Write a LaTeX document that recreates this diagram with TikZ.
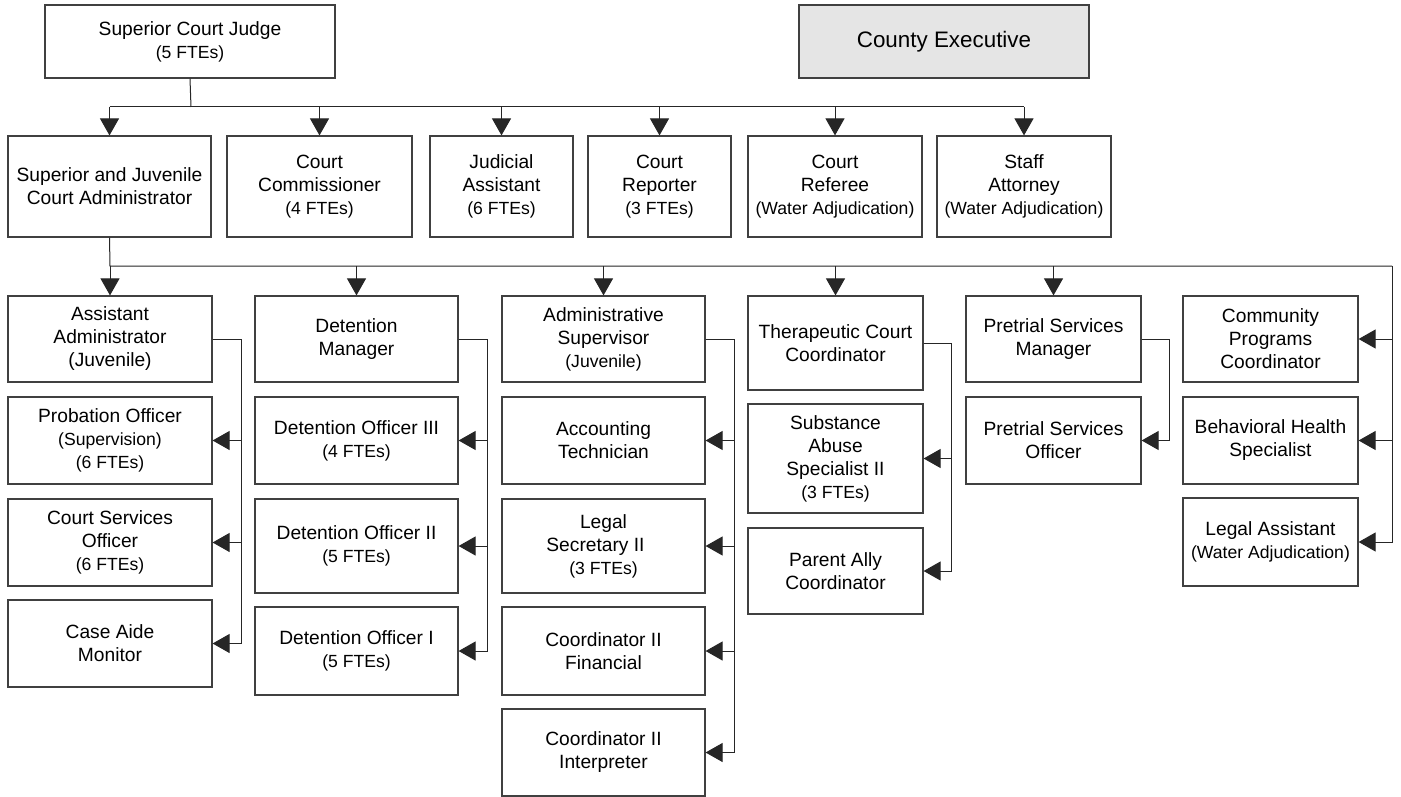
\documentclass[tikz,border=0pt]{standalone}
\usepackage{fontspec}
\setmainfont{Liberation Sans}
\usetikzlibrary{arrows.meta}
\newcommand{\sm}[1]{{\fontsize{17.6}{23}\selectfont #1}}
\newcommand{\orgbox}[7][]{%
  \pgfmathsetmacro\obw{#5-#3}\pgfmathsetmacro\obh{#6-#4}%
  \node[box,minimum width=\obw pt,minimum height=\obh pt,#1] (#2) at ({(#3+#5)/2},{(#4+#6)/2}) {#7};}
\begin{document}
\begin{tikzpicture}[x=1pt,y=-1pt,
  box/.style={draw=black!75, line width=1.2pt, fill=white, inner sep=0pt, align=center, font=\fontsize{19.2}{23}\selectfont},
  conn/.style={draw=black!85, line width=1pt},
  arr/.style={conn, -{Triangle[length=17pt,width=19pt]}}]
\fill[white] (0,0) rectangle (1401,797);
\useasboundingbox (0,0) rectangle (1401,797);
% top row
\orgbox{judge}{45}{5}{335}{78}{Superior Court Judge\\\sm{(5 FTEs)}}
\orgbox[fill=black!10, font=\fontsize{22.4}{26}\selectfont]{ce}{799}{5}{1089}{78}{County Executive}
% second row
\orgbox{sja}{8}{136}{211}{237}{Superior and Juvenile\\Court Administrator}
\orgbox{cc}{227}{136}{412}{237}{Court\\Commissioner\\\sm{(4 FTEs)}}
\orgbox{ja}{430}{136}{573}{237}{Judicial\\Assistant\\\sm{(6 FTEs)}}
\orgbox{cr}{588}{136}{731}{237}{Court\\Reporter\\\sm{(3 FTEs)}}
\orgbox{crf}{748}{136}{922}{237}{Court\\Referee\\\sm{(Water Adjudication)}}
\orgbox{sa}{937}{136}{1111}{237}{Staff\\Attorney\\\sm{(Water Adjudication)}}
% column 1
\orgbox{aa}{8}{296}{212}{382}{Assistant\\Administrator\\(Juvenile)}
\orgbox{po}{8}{397}{212}{484}{Probation Officer\\\sm{(Supervision)}\\\sm{(6 FTEs)}}
\orgbox{cso}{8}{499}{212}{586}{Court Services\\Officer\\\sm{(6 FTEs)}}
\orgbox{cam}{8}{600}{212}{687}{Case Aide\\Monitor}
% column 2
\orgbox{dm}{255}{296}{458}{382}{Detention\\Manager}
\orgbox{dothree}{255}{397}{458}{484}{Detention Officer III\\\sm{(4 FTEs)}}
\orgbox{dotwo}{255}{499}{458}{593}{Detention Officer II\\\sm{(5 FTEs)}}
\orgbox{doone}{255}{607}{458}{695}{Detention Officer I\\\sm{(5 FTEs)}}
% column 3
\orgbox{as}{502}{296}{705}{382}{Administrative\\Supervisor\\\sm{(Juvenile)}}
\orgbox{at}{502}{397}{705}{484}{Accounting\\Technician}
\orgbox{ls}{502}{499}{705}{593}{Legal\\Secretary II\rule{16pt}{0pt}\\\sm{(3 FTEs)}}
\orgbox{cf}{502}{607}{705}{695}{Coordinator II\\Financial}
\orgbox{ci}{502}{709}{705}{796}{Coordinator II\\Interpreter}
% column 4
\orgbox{tcc}{748}{296}{923}{390}{Therapeutic Court\\Coordinator}
\orgbox{sas}{748}{404}{923}{513}{Substance\\Abuse\\Specialist II\\\sm{(3 FTEs)}}
\orgbox{pac}{748}{528}{923}{614}{Parent Ally\\Coordinator}
% column 5
\orgbox{psm}{966}{296}{1141}{382}{Pretrial Services\\Manager}
\orgbox{pso}{966}{397}{1141}{484}{Pretrial Services\\Officer}
% column 6
\orgbox{cpc}{1183}{296}{1358}{382}{Community\\Programs\\Coordinator}
\orgbox{bhs}{1183}{397}{1358}{484}{Behavioral Health\\Specialist}
\orgbox{la}{1183}{498}{1358}{586}{Legal Assistant\\\sm{(Water Adjudication)}}
% top connectors
\coordinate (busA) at (191,107);
\draw[conn] (judge.south) -- (busA);
\draw[conn] (sja.north |- busA) -- (sa.north |- busA);
\foreach \n in {sja,cc,ja,cr,crf,sa}
  \draw[arr] (\n.north |- busA) -- (\n.north);
% second connectors
\coordinate (busL) at (110,266);
\coordinate (busR) at (1392,266);
\draw[conn] (sja.south) -- (busL) -- (busR);
\foreach \n in {aa,dm,as,tcc,psm}
  \draw[arr] (\n.north |- busL) -- (\n.north);
\foreach \n in {cpc,bhs,la}
  \draw[arr] (busR) |- (\n.east);
% side connectors
\foreach \n in {po,cso,cam}
  \draw[arr] (aa.east) -- ++(29,0) |- (\n.east);
\foreach \n in {dothree,dotwo,doone}
  \draw[arr] (dm.east) -- ++(29,0) |- (\n.east);
\foreach \n in {at,ls,cf,ci}
  \draw[arr] (as.east) -- ++(29,0) |- (\n.east);
\foreach \n in {sas,pac}
  \draw[arr] (tcc.east) -- ++(28,0) |- (\n.east);
\draw[arr] (psm.east) -- ++(28,0) |- (pso.east);
\end{tikzpicture}
\end{document}
